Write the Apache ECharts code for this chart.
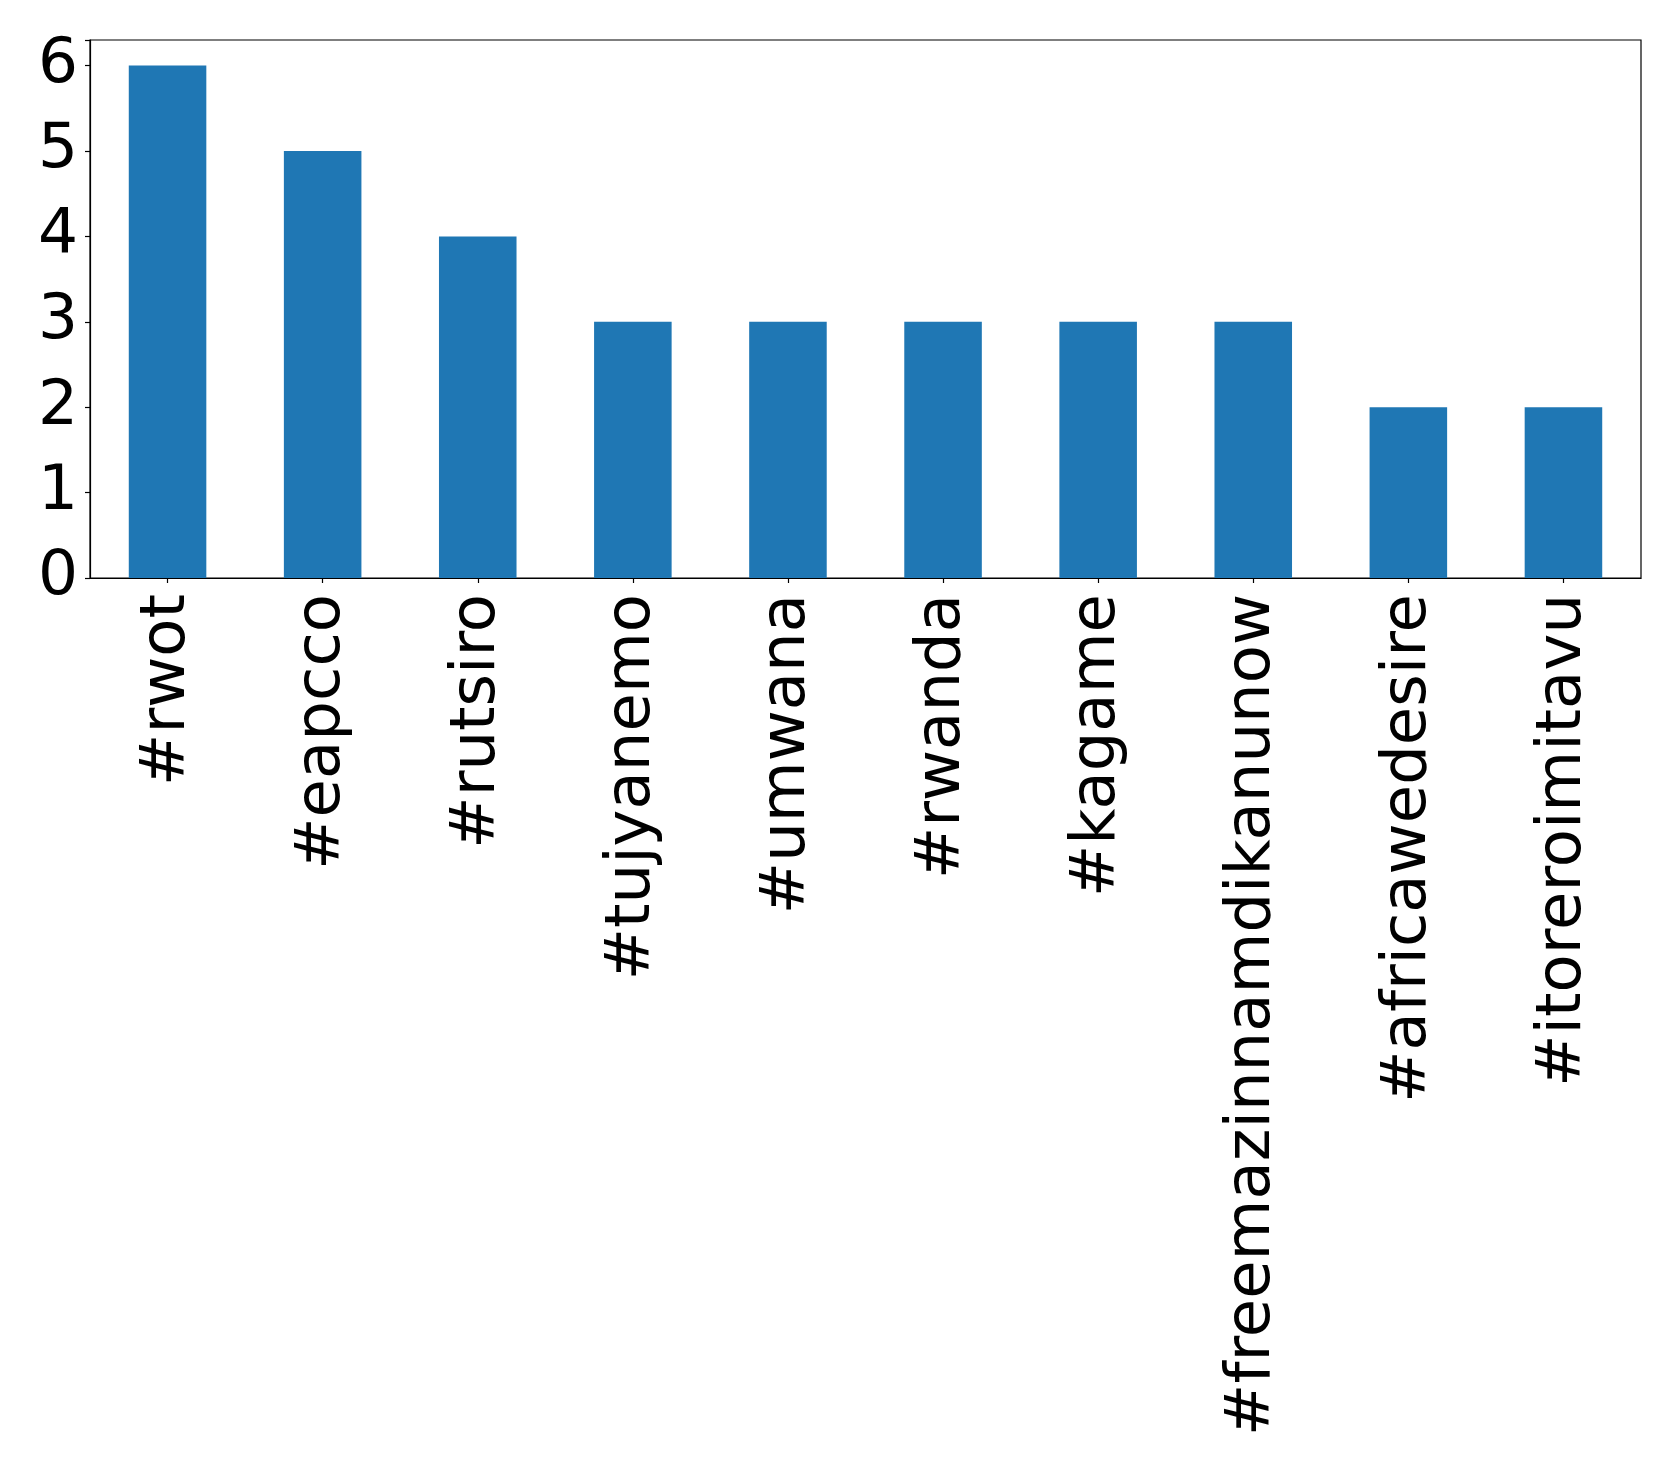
<!DOCTYPE html>
<html><head><meta charset="utf-8">
<script src="https://cdn.jsdelivr.net/npm/echarts@6/dist/echarts.min.js"></script>
<style>html,body{margin:0;padding:0;background:#fff}#c{width:1679px;height:1469px}</style>
</head><body><div id="c"></div>
<script>
const categories = ['#rwot','#eapcco','#rutsiro','#tujyanemo','#umwana','#rwanda','#kagame','#freemazinnamdikanunow','#africawedesire','#itoreroimitavu'];
const counts = [6,5,4,3,3,3,3,3,2,2];
const yTicks = [0,1,2,3,4,5,6];
const chart = echarts.init(document.getElementById('c'), null, {renderer:'canvas'});
chart.setOption({
  animation:false,
  backgroundColor:'#fff',
  grid:{left:90,right:38,top:40,bottom:891,show:true,borderColor:'#000',borderWidth:1.2,backgroundColor:'transparent'},
  xAxis:{type:'category',data:categories,boundaryGap:true,
    axisLine:{show:true,lineStyle:{color:'#000',width:1.2}},
    axisTick:{show:true,alignWithLabel:true,length:5,lineStyle:{color:'#000',width:1.2}},
    axisLabel:{rotate:90,interval:0,fontFamily:'DejaVu Sans',fontSize:62.5,color:'#000',margin:16}},
  yAxis:{type:'value',min:0,max:6.3,interval:1,
    splitLine:{show:false},
    axisLine:{show:true,lineStyle:{color:'#000',width:1.2}},
    axisTick:{show:true,length:5,lineStyle:{color:'#000',width:1.2}},
    axisLabel:{fontFamily:'DejaVu Sans',fontSize:63,color:'#000',margin:12,
      formatter:v=>yTicks.includes(v)?String(v):''}},
  series:[{type:'bar',data:counts,barWidth:'50%',itemStyle:{color:'#1f77b4'}}]
});
</script></body></html>
